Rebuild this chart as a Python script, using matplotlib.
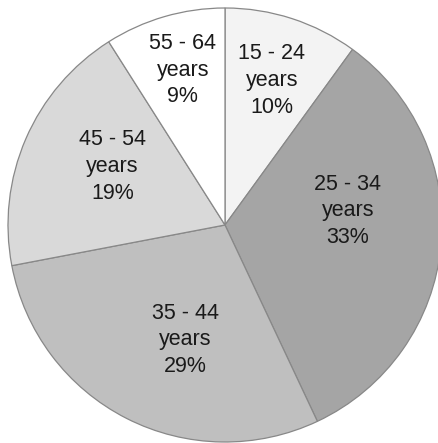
import numpy as np
import matplotlib.pyplot as plt

plt.rcParams['font.family'] = ['Liberation Sans', 'DejaVu Sans']

age_groups = ["15 - 24", "25 - 34", "35 - 44", "45 - 54", "55 - 64"]
shares = [10, 33, 29, 19, 9]
colors = ["#f3f3f3", "#a5a5a5", "#bfbfbf", "#d9d9d9", "#ffffff"]

# label placement (fraction of radius, angle tweak in degrees)
label_dist = [0.70, 0.57, 0.56, 0.585, 0.74]
label_dang = [0, 12, 8, -4, -1]

fig = plt.figure(figsize=(4.38, 4.43), dpi=100)
ax = fig.add_axes([0, 0, 1, 1])

wedges, _ = ax.pie(
    shares,
    colors=colors,
    startangle=90,
    counterclock=False,
    radius=1.0,
    wedgeprops=dict(edgecolor="#888888", linewidth=0.9),
)

for w, grp, pct, d, da in zip(wedges, age_groups, shares, label_dist, label_dang):
    mid = np.deg2rad((w.theta1 + w.theta2) / 2 + da)
    ax.text(d * np.cos(mid), d * np.sin(mid), f"{grp}\nyears\n{pct}%",
            ha="center", va="center", fontsize=15.5, linespacing=1.35,
            color="#1a1a1a")

r_px = 217.0
cx, cy = 225.0, 225.0
ax.set_xlim(-cx / r_px, (438 - cx) / r_px)
ax.set_ylim((cy - 443) / r_px, cy / r_px)
ax.set_aspect("auto")
ax.axis("off")

fig.savefig("out.png", dpi=100)
